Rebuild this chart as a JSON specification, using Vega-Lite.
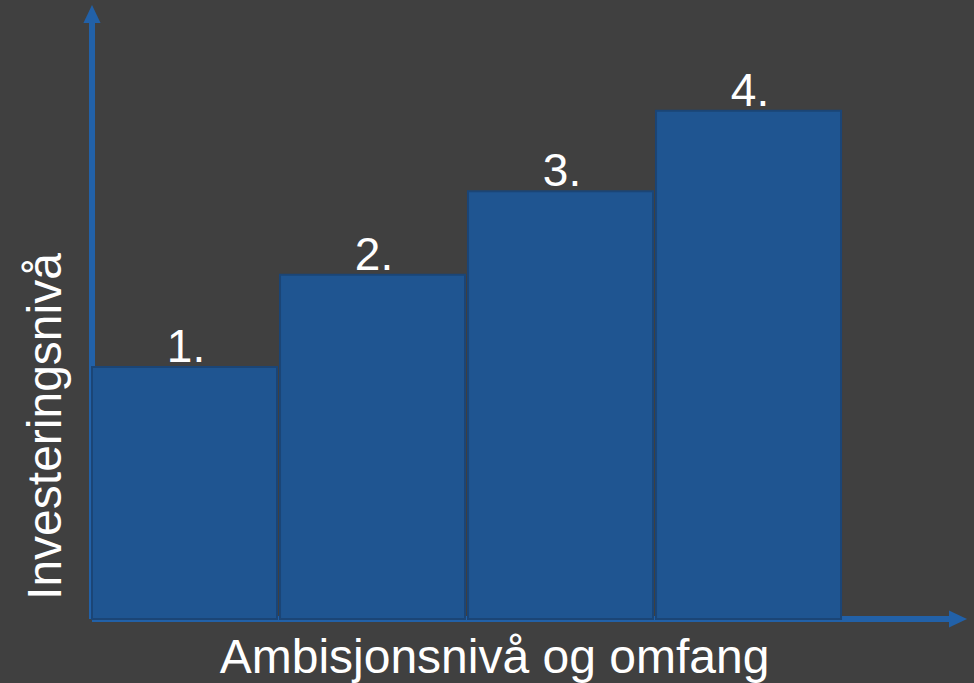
{
  "$schema": "https://vega.github.io/schema/vega-lite/v6.json",
  "width": 875,
  "height": 619,
  "autosize": {"type": "none"},
  "padding": {"left": 92, "top": 0, "right": 7, "bottom": 64},
  "background": "#404040",
  "config": {"view": {"stroke": null}, "font": "Liberation Sans"},
  "resolve": {"axis": {"x": "independent", "y": "independent"}},
  "datasets": {
    "bars": [
      {"nivaa": "1.", "start": 0, "end": 1, "investering": 40.7},
      {"nivaa": "2.", "start": 1, "end": 2, "investering": 55.6},
      {"nivaa": "3.", "start": 2, "end": 3, "investering": 69.1},
      {"nivaa": "4.", "start": 3, "end": 4, "investering": 82.1}
    ],
    "akser": [
      {"akse": "y", "x": 0, "x2": 0, "y": 0, "y2": 96.8},
      {"akse": "x", "x": 0, "x2": 4.56, "y": 0, "y2": 0}
    ],
    "pilY": [{"x": 0, "y": 97.74}],
    "pilX": [{"x": 4.606, "y": 0}]
  },
  "layer": [
    {
      "data": {"name": "akser"},
      "mark": {"type": "rule", "color": "#2261a8", "strokeWidth": 6, "strokeCap": "butt"},
      "encoding": {
        "x": {"field": "x", "type": "quantitative", "scale": {"domain": [0, 4.654], "nice": false, "zero": false}, "axis": null},
        "x2": {"field": "x2"},
        "y": {"field": "y", "type": "quantitative", "scale": {"domain": [0, 100], "nice": false}, "axis": null},
        "y2": {"field": "y2"}
      }
    },
    {
      "data": {"name": "pilY"},
      "mark": {"type": "point", "shape": "M0,-1L0.95,1L-0.95,1Z", "filled": true, "opacity": 1, "size": 324, "color": "#2261a8"},
      "encoding": {
        "x": {"field": "x", "type": "quantitative", "axis": null},
        "y": {"field": "y", "type": "quantitative", "axis": null}
      }
    },
    {
      "data": {"name": "pilX"},
      "mark": {"type": "point", "shape": "M1,0L-1,-0.95L-1,0.95Z", "filled": true, "opacity": 1, "size": 324, "color": "#2261a8"},
      "encoding": {
        "x": {"field": "x", "type": "quantitative", "axis": null},
        "y": {"field": "y", "type": "quantitative", "axis": null}
      }
    },
    {
      "data": {"name": "bars"},
      "mark": {"type": "rect", "fill": "#1f5591", "stroke": "#1b4576", "strokeWidth": 2, "x2Offset": -3},
      "encoding": {
        "x": {"field": "start", "type": "quantitative", "axis": {
          "title": "Ambisjonsnivå og omfang", "domain": false, "ticks": false, "labels": false, "grid": false,
          "titleFontSize": 48, "titleColor": "#ffffff", "titleFontWeight": "normal", "titleFont": "Liberation Sans",
          "titleX": 402, "titleY": 53, "titleAlign": "center", "titleBaseline": "alphabetic", "titleAnchor": null
        }},
        "x2": {"field": "end"},
        "y": {"field": "investering", "type": "quantitative", "axis": {
          "title": "Investeringsnivå", "domain": false, "ticks": false, "labels": false, "grid": false,
          "titleFontSize": 48, "titleColor": "#ffffff", "titleFontWeight": "normal", "titleFont": "Liberation Sans",
          "titleAngle": -90, "titleX": -32, "titleY": 426, "titleAlign": "center", "titleBaseline": "alphabetic", "titleAnchor": null
        }},
        "y2": {"datum": 0}
      }
    },
    {
      "data": {"name": "bars"},
      "mark": {"type": "text", "color": "#ffffff", "fontSize": 46, "align": "center", "baseline": "alphabetic", "dx": 94, "dy": -5},
      "encoding": {
        "x": {"field": "start", "type": "quantitative", "axis": null},
        "y": {"field": "investering", "type": "quantitative", "axis": null},
        "text": {"field": "nivaa"}
      }
    }
  ]
}
